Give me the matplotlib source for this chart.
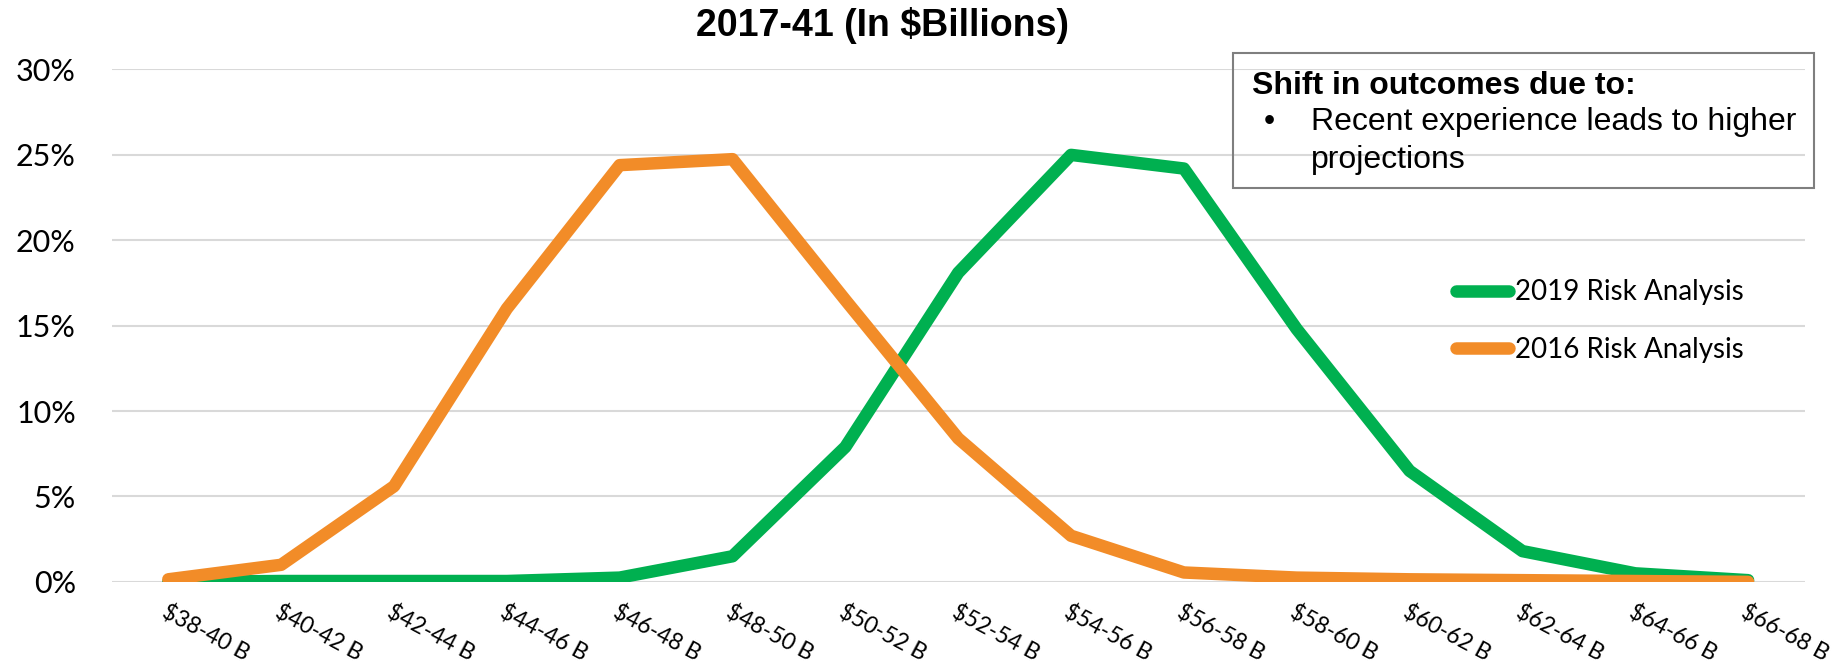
import matplotlib
matplotlib.use("Agg")
import matplotlib.pyplot as plt
from matplotlib.patches import Rectangle
from matplotlib.ticker import FuncFormatter

# Data
ranges = ["$38-40 B", "$40-42 B", "$42-44 B", "$44-46 B", "$46-48 B",
          "$48-50 B", "$50-52 B", "$52-54 B", "$54-56 B", "$56-58 B",
          "$58-60 B", "$60-62 B", "$62-64 B", "$64-66 B", "$66-68 B"]
risk_2019 = [0.0, 0.05, 0.05, 0.05, 0.25, 1.5, 7.9, 18.1, 25.0, 24.2,
             14.8, 6.5, 1.8, 0.5, 0.1]
risk_2016 = [0.15, 1.0, 5.6, 16.0, 24.4, 24.75, 16.5, 8.4, 2.7, 0.55,
             0.25, 0.15, 0.1, 0.05, 0.0]
y_ticks = [0, 5, 10, 15, 20, 25, 30]

GREEN = "#00B050"
ORANGE = "#F28C28"
ARIAL = "Liberation Sans"
CALIBRI = "Lato"


def risk_chart():
    fig = plt.figure(figsize=(18.47, 6.65), dpi=100)
    ax = fig.add_axes([0.0606, 0.125, 0.9164, 0.7705])

    x = list(range(len(ranges)))
    ax.plot(x, risk_2019, color=GREEN, lw=9, solid_capstyle="round",
            solid_joinstyle="round", label="2019 Risk Analysis", zorder=3)
    ax.plot(x, risk_2016, color=ORANGE, lw=9, solid_capstyle="round",
            solid_joinstyle="round", label="2016 Risk Analysis", zorder=4)

    ax.set_xlim(-0.5, len(ranges) - 0.5)
    ax.set_ylim(0, 30)
    ax.set_yticks(y_ticks)
    ax.yaxis.set_major_formatter(FuncFormatter(lambda v, p: f"{v:.0f}%"))
    ax.grid(axis="y", color="#D9D9D9", lw=1.5, zorder=0)
    ax.set_axisbelow(True)
    for s in ax.spines.values():
        s.set_visible(False)
    ax.tick_params(axis="y", length=0, pad=26, labelsize=22)
    for t in ax.get_yticklabels():
        t.set_fontfamily(CALIBRI)

    ax.set_xticks(x)
    ax.set_xticklabels(ranges, rotation=-28, ha="left",
                       rotation_mode="anchor", fontsize=16.5,
                       fontfamily=CALIBRI)
    ax.tick_params(axis="x", length=0, pad=14)

    fig.text(0.4776, 0.961, "2017-41 (In $Billions)", ha="center",
             va="center", fontsize=27, fontweight="bold", fontfamily=ARIAL)

    leg = ax.legend(loc="upper left", bbox_to_anchor=(0.781, 0.601),
                    bbox_transform=fig.transFigure, frameon=False,
                    prop={"family": CALIBRI, "size": 20}, borderpad=0,
                    handlelength=1.9, handletextpad=0.2, labelspacing=1.15)
    for h in leg.get_lines():
        h.set_solid_capstyle("round")

    # note box
    box = Rectangle((0.6676, 0.717), 0.3144, 0.203, transform=fig.transFigure,
                    fill=False, edgecolor="#7F7F7F", lw=1.5)
    fig.patches.append(box)
    fig.text(0.678, 0.871, "Shift in outcomes due to:", ha="left",
             va="center", fontsize=23, fontweight="bold", fontfamily=ARIAL)
    fig.text(0.684, 0.816, "\u2022", ha="left", va="center", fontsize=23,
             fontfamily=ARIAL)
    fig.text(0.710, 0.816, "Recent experience leads to higher", ha="left",
             va="center", fontsize=23, fontfamily=ARIAL)
    fig.text(0.710, 0.759, "projections", ha="left", va="center",
             fontsize=23, fontfamily=ARIAL)

    fig.savefig("out.png", dpi=100)


if __name__ == '__main__':
    risk_chart()
